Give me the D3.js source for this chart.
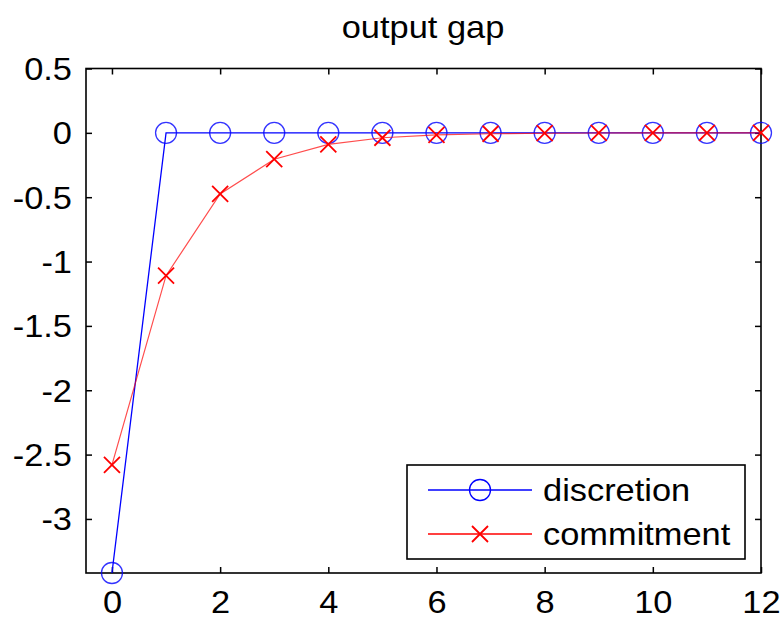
<!DOCTYPE html>
<html><head><meta charset="utf-8">
<script src="https://cdn.jsdelivr.net/npm/d3@7"></script>
<style>body{margin:0;background:#fff}svg{display:block}</style>
</head><body>
<script>
const periods = [0,1,2,3,4,5,6,7,8,9,10,11,12];
const discretion = [-3.42,0,0,0,0,0,0,0,0,0,0,0,0];
const commitment = [-2.58,-1.11,-0.475,-0.205,-0.09,-0.038,-0.016,-0.007,-0.003,-0.001,0,0,0];
const xTicks = [0,2,4,6,8,10,12];
const yTicks = [0.5,0,-0.5,-1,-1.5,-2,-2.5,-3];
const seriesNames = ["discretion","commitment"];
const title = "output gap";

const W=784,H=620;
const L=86,R=761,T=68.5,B=573;
const FS=31, SX=1.11;
const svg=d3.select("body").append("svg").attr("width",W).attr("height",H);
const x=d3.scaleLinear().domain([-0.48,12]).range([L,R]);
const y=d3.scaleLinear().domain([-3.42,0.5]).range([B,T]);
const font="Liberation Sans, Arial, sans-serif";

function stretch(sel){
  sel.each(function(){
    const t=d3.select(this);
    const tx=+t.attr("x")||0, ty=+t.attr("y")||0;
    t.attr("x",0).attr("y",0).attr("transform",`translate(${tx},${ty}) scale(${SX},1)`);
  });
}

// title
svg.append("text").attr("x",(L+R)/2-0.5).attr("y",38).attr("text-anchor","middle")
  .attr("font-family",font).attr("font-size",FS).attr("fill","#000").text(title).call(stretch);

// axes
const gx=svg.append("g").attr("transform",`translate(0,${B})`)
  .call(d3.axisBottom(x).tickValues(xTicks).tickSizeInner(-6).tickSizeOuter(0).tickFormat(d3.format("d")));
const gx2=svg.append("g").attr("transform",`translate(0,${T})`)
  .call(d3.axisTop(x).tickValues(xTicks).tickSizeInner(-6).tickSizeOuter(0).tickFormat(""));
const gy=svg.append("g").attr("transform",`translate(${L},0)`)
  .call(d3.axisLeft(y).tickValues(yTicks).tickSizeInner(-6).tickSizeOuter(0).tickFormat(d=>String(d)));
const gy2=svg.append("g").attr("transform",`translate(${R},0)`)
  .call(d3.axisRight(y).tickValues(yTicks).tickSizeInner(-6).tickSizeOuter(0).tickFormat(""));
[gx,gx2,gy,gy2].forEach(g=>{
  g.select(".domain").remove();
  g.selectAll(".tick line").attr("stroke","#000").attr("stroke-width",1.5);
  g.selectAll("text").attr("font-family",font).attr("font-size",FS).attr("fill","#000");
});
gx.selectAll(".tick text").attr("y",40).attr("dy","0").call(stretch);
gy.selectAll(".tick text").attr("x",-14).attr("dy","0.35em").call(stretch);
svg.append("rect").attr("x",L).attr("y",T).attr("width",R-L).attr("height",B-T)
  .attr("fill","none").attr("stroke","#000").attr("stroke-width",1.6);

const line=d3.line().x((d,i)=>x(periods[i])).y(d=>y(d));
const plot=svg.append("g");
// discretion
plot.append("path").datum(discretion).attr("d",line).attr("fill","none").attr("stroke","#0000ff").attr("stroke-width",1.3);
plot.selectAll("circle.d").data(discretion).enter().append("circle")
  .attr("cx",(d,i)=>x(periods[i])).attr("cy",d=>y(d)).attr("r",10.5)
  .attr("fill","none").attr("stroke","#0000ff").attr("stroke-width",1.3).attr("opacity",0.8);
// commitment
plot.append("path").datum(commitment).attr("d",line).attr("fill","none").attr("stroke","#ff0000").attr("stroke-width",1.2).attr("opacity",0.7);
const xm=8;
commitment.forEach((d,i)=>{
  const cx=x(periods[i]),cy=y(d);
  plot.append("path").attr("d",`M${cx-xm},${cy-xm}L${cx+xm},${cy+xm}M${cx-xm},${cy+xm}L${cx+xm},${cy-xm}`)
    .attr("stroke","#ff0000").attr("stroke-width",1.8).attr("fill","none");
});

// legend
const lg=svg.append("g");
lg.append("rect").attr("x",407).attr("y",465).attr("width",338).attr("height",94)
  .attr("fill","#fff").attr("stroke","#000").attr("stroke-width",1.6);
const ly=[490,534];
const colors=["#0000ff","#ff0000"];
seriesNames.forEach((n,i)=>{
  lg.append("line").attr("x1",428).attr("x2",532).attr("y1",ly[i]).attr("y2",ly[i]).attr("stroke",colors[i]).attr("stroke-width",1.3);
  if(i===0) lg.append("circle").attr("cx",480).attr("cy",ly[i]).attr("r",10.5).attr("fill","none").attr("stroke",colors[i]).attr("stroke-width",1.3);
  else lg.append("path").attr("d",`M${480-xm},${ly[i]-xm}L${480+xm},${ly[i]+xm}M${480-xm},${ly[i]+xm}L${480+xm},${ly[i]-xm}`).attr("stroke",colors[i]).attr("stroke-width",1.8);
  lg.append("text").attr("x",543).attr("y",ly[i]).attr("dy","0.35em").attr("font-family",font).attr("font-size",FS).attr("fill","#000").text(n).call(stretch);
});
</script>
</body></html>
